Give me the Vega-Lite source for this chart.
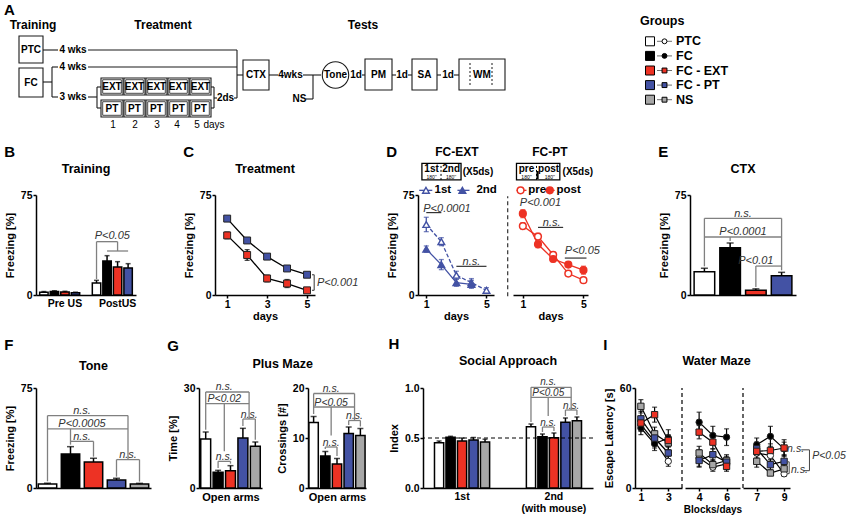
{
"$schema":"https://vega.github.io/schema/vega-lite/v6.json",
"background":"white",
"padding":{"left":4,"top":0,"right":0,"bottom":0},
"config":{
 "font":"Liberation Sans",
 "view":{"stroke":null},
 "axis":{"domainColor":"#000","domainWidth":1.5,"tickColor":"#000","tickWidth":1.5,"tickSize":3,"labelFont":"Liberation Sans","labelFontWeight":"bold","labelFontSize":10.5,"labelColor":"#000","labelPadding":1,"labelOverlap":false,"titleFont":"Liberation Sans","titleFontWeight":"bold","titleFontSize":11,"titleColor":"#000","titlePadding":5,"grid":false},
 "title":{"font":"Liberation Sans","fontSize":12.5,"fontWeight":"bold","color":"#000"}
},
"spacing":14,
"vconcat":[
 {"hconcat":[
  {"width":604,"height":102,"data":{"values":[
  {"k":"box","x":19,"x2":43,"y":36,"y2":63},
  {"k":"box","x":19,"x2":43,"y":68,"y2":97},
  {"k":"box","x":243,"x2":269,"y":60,"y2":90},
  {"k":"box","x":365,"x2":392,"y":59,"y2":90},
  {"k":"box","x":412,"x2":437,"y":59,"y2":90},
  {"k":"box","x":459,"x2":505,"y":59,"y2":90},
  {"k":"box","x":101,"x2":123,"y":78,"y2":95},
  {"k":"box","x":124,"x2":145,"y":78,"y2":95},
  {"k":"box","x":146,"x2":167,"y":78,"y2":95},
  {"k":"box","x":168,"x2":189,"y":78,"y2":95},
  {"k":"box","x":190,"x2":211,"y":78,"y2":95},
  {"k":"box","x":101,"x2":123,"y":100,"y2":117},
  {"k":"box","x":124,"x2":145,"y":100,"y2":117},
  {"k":"box","x":146,"x2":167,"y":100,"y2":117},
  {"k":"box","x":168,"x2":189,"y":100,"y2":117},
  {"k":"box","x":190,"x2":211,"y":100,"y2":117},
  {"k":"ibox","x":102.7,"x2":121.3,"y":79.7,"y2":93.3},
  {"k":"ibox","x":125.7,"x2":143.3,"y":79.7,"y2":93.3},
  {"k":"ibox","x":147.7,"x2":165.3,"y":79.7,"y2":93.3},
  {"k":"ibox","x":169.7,"x2":187.3,"y":79.7,"y2":93.3},
  {"k":"ibox","x":191.7,"x2":209.3,"y":79.7,"y2":93.3},
  {"k":"ibox","x":102.7,"x2":121.3,"y":101.7,"y2":115.3},
  {"k":"ibox","x":125.7,"x2":143.3,"y":101.7,"y2":115.3},
  {"k":"ibox","x":147.7,"x2":165.3,"y":101.7,"y2":115.3},
  {"k":"ibox","x":169.7,"x2":187.3,"y":101.7,"y2":115.3},
  {"k":"ibox","x":191.7,"x2":209.3,"y":101.7,"y2":115.3},
  {"k":"hl","x":43,"x2":58,"y":50},
  {"k":"hl","x":88,"x2":237,"y":50},
  {"k":"hl","x":43,"x2":52,"y":82},
  {"k":"hl","x":52,"x2":58,"y":67},
  {"k":"hl","x":88,"x2":237,"y":67},
  {"k":"hl","x":52,"x2":58,"y":97},
  {"k":"hl","x":88,"x2":97,"y":97},
  {"k":"hl","x":97,"x2":101,"y":87},
  {"k":"hl","x":97,"x2":101,"y":108},
  {"k":"hl","x":211,"x2":214,"y":87},
  {"k":"hl","x":211,"x2":214,"y":108},
  {"k":"hl","x":214,"x2":217,"y":98},
  {"k":"hl","x":234,"x2":237,"y":98},
  {"k":"hl","x":237,"x2":243,"y":75},
  {"k":"hl","x":269,"x2":278,"y":75},
  {"k":"hl","x":303,"x2":321,"y":75},
  {"k":"hl","x":306,"x2":313,"y":99},
  {"k":"hl","x":362,"x2":365,"y":75},
  {"k":"hl","x":392,"x2":396,"y":75},
  {"k":"hl","x":408,"x2":412,"y":75},
  {"k":"hl","x":437,"x2":441,"y":75},
  {"k":"hl","x":454,"x2":459,"y":75},
  {"k":"vl","x":52,"y":67,"y2":97},
  {"k":"vl","x":97,"y":87,"y2":108},
  {"k":"vl","x":214,"y":87,"y2":108},
  {"k":"vl","x":237,"y":50,"y2":98},
  {"k":"vl","x":313,"y":75,"y2":99},
  {"k":"dl","x":470,"y":63,"y2":87},
  {"k":"dl","x":492,"y":63,"y2":87},
  {"k":"circ","x":335.5,"y":75},
  {"k":"tl","x":4,"y":10,"t":"A"},
  {"k":"tt","x":33,"y":25,"t":"Training"},
  {"k":"tt","x":163,"y":25,"t":"Treatment"},
  {"k":"tt","x":363,"y":25,"t":"Tests"},
  {"k":"tb","x":31,"y":50,"t":"PTC"},
  {"k":"tb","x":31,"y":82.5,"t":"FC"},
  {"k":"tb","x":73,"y":50,"t":"4 wks"},
  {"k":"tb","x":73,"y":67,"t":"4 wks"},
  {"k":"tb","x":73,"y":97,"t":"3 wks"},
  {"k":"tb","x":112,"y":87,"t":"EXT"},
  {"k":"tb","x":134.5,"y":87,"t":"EXT"},
  {"k":"tb","x":156.5,"y":87,"t":"EXT"},
  {"k":"tb","x":178.5,"y":87,"t":"EXT"},
  {"k":"tb","x":200.5,"y":87,"t":"EXT"},
  {"k":"tb","x":112,"y":108.5,"t":"PT"},
  {"k":"tb","x":134.5,"y":108.5,"t":"PT"},
  {"k":"tb","x":156.5,"y":108.5,"t":"PT"},
  {"k":"tb","x":178.5,"y":108.5,"t":"PT"},
  {"k":"tb","x":200.5,"y":108.5,"t":"PT"},
  {"k":"tb","x":225.5,"y":98,"t":"2ds"},
  {"k":"tb","x":256,"y":75,"t":"CTX"},
  {"k":"tb","x":290.5,"y":75,"t":"4wks"},
  {"k":"tb","x":299.5,"y":99,"t":"NS"},
  {"k":"tb","x":335.5,"y":75,"t":"Tone"},
  {"k":"tb","x":356,"y":75,"t":"1d"},
  {"k":"tb","x":378.5,"y":75,"t":"PM"},
  {"k":"tb","x":402,"y":75,"t":"1d"},
  {"k":"tb","x":424.5,"y":75,"t":"SA"},
  {"k":"tb","x":448,"y":75,"t":"1d"},
  {"k":"tb","x":482,"y":75,"t":"WM"},
  {"k":"tn","x":113,"y":125,"t":"1"},
  {"k":"tn","x":135,"y":125,"t":"2"},
  {"k":"tn","x":157,"y":125,"t":"3"},
  {"k":"tn","x":177,"y":125,"t":"4"},
  {"k":"tn","x":197,"y":125,"t":"5"},
  {"k":"tn","x":214,"y":125,"t":"days"}
  ]},"layer":[
   {"transform":[{"filter":"datum.k == 'box'"}],"mark":{"type":"rect","fillOpacity":0,"stroke":"#1a1a1a","strokeWidth":1.1},"encoding":{"x":{"field":"x","type":"quantitative","scale":{"domain":[36,640],"nice":false,"zero":false},"axis":null},"x2":{"field":"x2"},"y":{"field":"y","type":"quantitative","scale":{"domain":[0,102],"nice":false,"zero":false,"reverse":true},"axis":null},"y2":{"field":"y2"}}},
   {"transform":[{"filter":"datum.k == 'ibox'"}],"mark":{"type":"rect","fillOpacity":0,"stroke":"#1a1a1a","strokeWidth":0.8},"encoding":{"x":{"field":"x","type":"quantitative","axis":null},"x2":{"field":"x2"},"y":{"field":"y","type":"quantitative","axis":null},"y2":{"field":"y2"}}},
   {"transform":[{"filter":"datum.k == 'hl'"}],"mark":{"type":"rule","color":"#1a1a1a","strokeWidth":1.1},"encoding":{"x":{"field":"x","type":"quantitative","axis":null},"x2":{"field":"x2"},"y":{"field":"y","type":"quantitative","axis":null}}},
   {"transform":[{"filter":"datum.k == 'vl'"}],"mark":{"type":"rule","color":"#1a1a1a","strokeWidth":1.1},"encoding":{"x":{"field":"x","type":"quantitative","axis":null},"y":{"field":"y","type":"quantitative","axis":null},"y2":{"field":"y2"}}},
   {"transform":[{"filter":"datum.k == 'dl'"}],"mark":{"type":"rule","color":"#1a1a1a","strokeWidth":1,"strokeDash":[2,2]},"encoding":{"x":{"field":"x","type":"quantitative","axis":null},"y":{"field":"y","type":"quantitative","axis":null},"y2":{"field":"y2"}}},
   {"transform":[{"filter":"datum.k == 'circ'"}],"mark":{"type":"point","shape":"circle","size":700,"filled":true,"fill":"#ffffff","stroke":"#1a1a1a","strokeWidth":1.1,"opacity":1},"encoding":{"x":{"field":"x","type":"quantitative","axis":null},"y":{"field":"y","type":"quantitative","axis":null}}},
   {"transform":[{"filter":"datum.k == 'tb'"}],"mark":{"type":"text","fontWeight":"bold","fontSize":10,"align":"center","baseline":"middle"},"encoding":{"x":{"field":"x","type":"quantitative","axis":null},"y":{"field":"y","type":"quantitative","axis":null},"text":{"field":"t"}}},
   {"transform":[{"filter":"datum.k == 'tt'"}],"mark":{"type":"text","fontWeight":"bold","fontSize":12,"align":"center","baseline":"middle"},"encoding":{"x":{"field":"x","type":"quantitative","axis":null},"y":{"field":"y","type":"quantitative","axis":null},"text":{"field":"t"}}},
   {"transform":[{"filter":"datum.k == 'tn'"}],"mark":{"type":"text","fontSize":10,"align":"center","baseline":"middle","color":"#000"},"encoding":{"x":{"field":"x","type":"quantitative","axis":null},"y":{"field":"y","type":"quantitative","axis":null},"text":{"field":"t"}}},
   {"transform":[{"filter":"datum.k == 'tl'"}],"mark":{"type":"text","fontWeight":"bold","fontSize":15,"align":"left","baseline":"middle"},"encoding":{"x":{"field":"x","type":"quantitative","axis":null},"y":{"field":"y","type":"quantitative","axis":null},"text":{"field":"t"}}}
  ]},
  {"width":210,"height":102,
   "data":{"values":[{"g":"PTC"},{"g":"FC"},{"g":"FC - EXT"},{"g":"FC - PT"},{"g":"NS"}]},
   "layer":[
    {"mark":{"type":"point","shape":"square","size":81,"filled":true,"stroke":"#000","strokeWidth":1,"opacity":1},"encoding":{"x":{"datum":650,"type":"quantitative","scale":{"domain":[640,850],"nice":false,"zero":false},"axis":null},"y":{"field":"g","type":"nominal","scale":{"domain":["PTC","FC","FC - EXT","FC - PT","NS"],"range":[34,107]},"axis":null},"fill":{"field":"g","type":"nominal","scale":{"domain":["PTC","FC","FC - EXT","FC - PT","NS"],"range":["#ffffff","#000000","#ed3224","#4352a4","#a7a7a7"]},"legend":null}}},
    {"mark":{"type":"tick","orient":"horizontal","size":15,"thickness":1,"color":"#333"},"encoding":{"x":{"datum":664.5,"type":"quantitative","axis":null},"y":{"field":"g","type":"nominal","axis":null}}},
    {"transform":[{"filter":"datum.g == 'PTC' || datum.g == 'FC'"}],"mark":{"type":"point","shape":"circle","size":24,"filled":true,"stroke":"#000","strokeWidth":1,"opacity":1},"encoding":{"x":{"datum":664.5,"type":"quantitative","axis":null},"y":{"field":"g","type":"nominal","axis":null},"fill":{"field":"g","type":"nominal","scale":{"domain":["PTC","FC","FC - EXT","FC - PT","NS"],"range":["#ffffff","#000000","#ed3224","#4352a4","#a7a7a7"]},"legend":null}}},
    {"transform":[{"filter":"datum.g != 'PTC' && datum.g != 'FC'"}],"mark":{"type":"point","shape":"square","size":24,"filled":true,"stroke":"#000","strokeWidth":1,"opacity":1},"encoding":{"x":{"datum":664.5,"type":"quantitative","axis":null},"y":{"field":"g","type":"nominal","axis":null},"fill":{"field":"g","type":"nominal","scale":{"domain":["PTC","FC","FC - EXT","FC - PT","NS"],"range":["#ffffff","#000000","#ed3224","#4352a4","#a7a7a7"]},"legend":null}}},
    {"mark":{"type":"text","align":"left","baseline":"middle","fontWeight":"bold","fontSize":12.5},"encoding":{"x":{"datum":676,"type":"quantitative","axis":null},"y":{"field":"g","type":"nominal","axis":null},"text":{"field":"g"}}},
    {"data":{"values":[{"g":"PTC","t":"Groups"}]},"mark":{"type":"text","align":"left","baseline":"middle","fontWeight":"bold","fontSize":12.5,"dy":-20},"encoding":{"x":{"datum":640,"type":"quantitative","axis":null},"y":{"field":"g","type":"nominal","axis":null},"text":{"field":"t"}}}
   ]}
 ],"spacing":0},

 {"hconcat":[
  {"title":{"text":"B","anchor":"start","fontSize":15,"offset":3},"vconcat":[{
   "title":{"text":"Training","offset":15,"frame":"group"},
   "width":100,"height":100,
   "data":{"values":[
    {"s":"pre_PTC","g":"PTC","m":2,"hi":2.6},
    {"s":"pre_FC","g":"FC","m":2.6,"hi":3.2},
    {"s":"pre_EXT","g":"FC - EXT","m":2.2,"hi":2.8},
    {"s":"pre_PT","g":"FC - PT","m":1.6,"hi":2.1},
    {"s":"post_PTC","g":"PTC","m":9,"hi":11},
    {"s":"post_FC","g":"FC","m":25.5,"hi":29.5},
    {"s":"post_EXT","g":"FC - EXT","m":21,"hi":25},
    {"s":"post_PT","g":"FC - PT","m":20.3,"hi":23.5}
   ]},
   "layer":[
    {"mark":{"type":"rule","color":"#000","strokeWidth":1.5},"encoding":{"x":{"field":"s","type":"nominal","title":null,"scale":{"domain":["pre_PTC","pre_FC","pre_EXT","pre_PT","gap","post_PTC","post_FC","post_EXT","post_PT"],"paddingInner":0.2,"paddingOuter":0.35},"axis":{"values":["pre_EXT","post_EXT"],"labelExpr":"datum.value == 'pre_EXT' ? 'Pre US' : 'PostUS'","ticks":false,"labelAngle":0,"labelPadding":3,"labelOverlap":false}},"y":{"field":"m","type":"quantitative","title":"Freezing [%]","scale":{"domain":[0,75],"nice":false},"axis":{"values":[0,25,50,75],"labelOverlap":false}},"y2":{"field":"hi"}}},
    {"mark":{"type":"tick","orient":"horizontal","size":5,"thickness":1.5,"color":"#000"},"encoding":{"x":{"field":"s","type":"nominal","title":null},"y":{"field":"hi","type":"quantitative","title":"Freezing [%]"}}},
    {"mark":{"type":"bar","stroke":"#000","strokeWidth":1.5},"encoding":{"x":{"field":"s","type":"nominal","title":null},"y":{"field":"m","type":"quantitative","title":"Freezing [%]"},"fill":{"field":"g","type":"nominal","scale":{"domain":["PTC","FC","FC - EXT","FC - PT","NS"],"range":["#ffffff","#000000","#ed3224","#4352a4","#a7a7a7"]},"legend":null}}},
    {"data":{"values":[{"s":"post_PTC","s2":"post_EXT","v":40},{"s":"post_FC","s2":"post_PT","v":33}]},"mark":{"type":"rule","color":"#808080","strokeWidth":1.3},"encoding":{"x":{"field":"s","type":"nominal","title":null},"x2":{"field":"s2"},"y":{"field":"v","type":"quantitative","title":"Freezing [%]"}}},
    {"data":{"values":[{"s":"post_PTC","v":12,"v2":40},{"s":"post_EXT","v":33,"v2":40}]},"mark":{"type":"rule","color":"#808080","strokeWidth":1.3},"encoding":{"x":{"field":"s","type":"nominal","title":null},"y":{"field":"v","type":"quantitative","title":"Freezing [%]"},"y2":{"field":"v2"}}},
    {"data":{"values":[{"s":"post_FC","v":42,"t":"P<0.05"}]},"mark":{"type":"text","fontStyle":"italic","fontSize":11,"color":"#333","baseline":"alphabetic"},"encoding":{"x":{"field":"s","type":"nominal","bandPosition":1.125,"title":null},"y":{"field":"v","type":"quantitative","title":"Freezing [%]"},"text":{"field":"t"}}}
   ]}]},
  {"width":47,"height":1,"data":{"values":[{}]},"mark":{"type":"point","opacity":0},"encoding":{}},
  {"title":{"text":"C","anchor":"start","fontSize":15,"offset":3},"vconcat":[{
   "title":{"text":"Treatment","offset":15,"frame":"group"},
   "width":100,"height":100,
   "data":{"values":[
    {"g":"FC - PT","d":1,"m":57.3,"lo":56,"hi":58.6},
    {"g":"FC - PT","d":2,"m":40.9,"lo":39.3,"hi":42.5},
    {"g":"FC - PT","d":3,"m":28.8,"lo":27.8,"hi":29.8},
    {"g":"FC - PT","d":4,"m":19.9,"lo":18.9,"hi":20.9},
    {"g":"FC - PT","d":5,"m":15.2,"lo":14.2,"hi":16.2},
    {"g":"FC - EXT","d":1,"m":44.7,"lo":42.2,"hi":47.2},
    {"g":"FC - EXT","d":2,"m":30,"lo":26,"hi":34},
    {"g":"FC - EXT","d":3,"m":12.4,"lo":9.9,"hi":14.9},
    {"g":"FC - EXT","d":4,"m":8.6,"lo":5.6,"hi":11.6},
    {"g":"FC - EXT","d":5,"m":3.5,"lo":2.5,"hi":4.5}
   ]},
   "layer":[
    {"mark":{"type":"line","color":"#000","strokeWidth":1.3},"encoding":{"x":{"field":"d","type":"quantitative","title":"days","scale":{"domain":[0.39,5.4],"nice":false,"zero":false},"axis":{"values":[1,2,3,4,5],"format":"d","titlePadding":1,"labelOverlap":false}},"y":{"field":"m","type":"quantitative","title":"Freezing [%]","scale":{"domain":[0,75],"nice":false},"axis":{"values":[0,25,50,75],"labelOverlap":false}},"detail":{"field":"g","type":"nominal"}}},
    {"mark":{"type":"rule","color":"#000","strokeWidth":1.3},"encoding":{"x":{"field":"d","type":"quantitative","title":"days"},"y":{"field":"lo","type":"quantitative","title":"Freezing [%]"},"y2":{"field":"hi"}}},
    {"mark":{"type":"tick","orient":"horizontal","size":5,"thickness":1.3,"color":"#000"},"encoding":{"x":{"field":"d","type":"quantitative","title":"days"},"y":{"field":"hi","type":"quantitative","title":"Freezing [%]"}}},
    {"mark":{"type":"tick","orient":"horizontal","size":5,"thickness":1.3,"color":"#000"},"encoding":{"x":{"field":"d","type":"quantitative","title":"days"},"y":{"field":"lo","type":"quantitative","title":"Freezing [%]"}}},
    {"mark":{"type":"point","shape":"square","size":48,"filled":true,"stroke":"#222","strokeWidth":1,"opacity":1},"encoding":{"x":{"field":"d","type":"quantitative","title":"days"},"y":{"field":"m","type":"quantitative","title":"Freezing [%]"},"fill":{"field":"g","type":"nominal","scale":{"domain":["PTC","FC","FC - EXT","FC - PT","NS"],"range":["#ffffff","#000000","#ed3224","#4352a4","#a7a7a7"]},"legend":null}}},
    {"data":{"values":[{"d":5.36,"v":3.5,"v2":15.2}]},"mark":{"type":"rule","color":"#555","strokeWidth":1.2},"encoding":{"x":{"field":"d","type":"quantitative","title":"days"},"y":{"field":"v","type":"quantitative","title":"Freezing [%]"},"y2":{"field":"v2"}}},
    {"data":{"values":[{"d":5.25,"d2":5.36,"v":15.2},{"d":5.25,"d2":5.36,"v":3.5}]},"mark":{"type":"rule","color":"#555","strokeWidth":1.2},"encoding":{"x":{"field":"d","type":"quantitative","title":"days"},"x2":{"field":"d2"},"y":{"field":"v","type":"quantitative","title":"Freezing [%]"}}},
    {"data":{"values":[{"d":5.5,"v":6.5,"t":"P<0.001"}]},"mark":{"type":"text","fontStyle":"italic","fontSize":11,"color":"#333","baseline":"alphabetic","align":"left"},"encoding":{"x":{"field":"d","type":"quantitative","title":"days"},"y":{"field":"v","type":"quantitative","title":"Freezing [%]"},"text":{"field":"t"}}}
   ]}]},
  {"width":27,"height":1,"data":{"values":[{}]},"mark":{"type":"point","opacity":0},"encoding":{}},
  {"title":{"text":"D","anchor":"start","fontSize":15,"offset":-14},"spacing":0,"hconcat":[
   {"width":76,"height":100,
    "data":{"values":[
     {"g":"1st","d":1,"m":52.9,"lo":47.5,"hi":58.3},
     {"g":"1st","d":2,"m":40,"lo":37,"hi":43},
     {"g":"1st","d":3,"m":14.8,"lo":11.8,"hi":17.8},
     {"g":"1st","d":4,"m":9.3,"lo":6.3,"hi":12.3},
     {"g":"1st","d":5,"m":3.5,"lo":1.5,"hi":5.5},
     {"g":"2nd","d":1,"m":34.4,"lo":32,"hi":36.8},
     {"g":"2nd","d":2,"m":22.8,"lo":19,"hi":26.6},
     {"g":"2nd","d":3,"m":9.2,"lo":6.5,"hi":11.9},
     {"g":"2nd","d":4,"m":8,"lo":5,"hi":11}
    ]},
    "layer":[
     {"transform":[{"filter":"datum.g == '1st'"}],"mark":{"type":"line","color":"#4352a4","strokeWidth":1.3,"strokeDash":[4,2]},"encoding":{"x":{"field":"d","type":"quantitative","title":"days","scale":{"domain":[0.45,5.5],"nice":false,"zero":false},"axis":{"values":[1,2,3,4,5],"format":"d","titlePadding":1,"labelOverlap":false}},"y":{"field":"m","type":"quantitative","title":"Freezing [%]","scale":{"domain":[0,75],"nice":false},"axis":{"values":[0,25,50,75],"labelOverlap":false}}}},
     {"transform":[{"filter":"datum.g == '2nd'"}],"mark":{"type":"line","color":"#4352a4","strokeWidth":1.3},"encoding":{"x":{"field":"d","type":"quantitative","title":"days"},"y":{"field":"m","type":"quantitative","title":"Freezing [%]"}}},
     {"mark":{"type":"rule","color":"#4352a4","strokeWidth":1.3},"encoding":{"x":{"field":"d","type":"quantitative","title":"days"},"y":{"field":"lo","type":"quantitative","title":"Freezing [%]"},"y2":{"field":"hi"}}},
     {"mark":{"type":"tick","orient":"horizontal","size":5,"thickness":1.3,"color":"#4352a4"},"encoding":{"x":{"field":"d","type":"quantitative","title":"days"},"y":{"field":"hi","type":"quantitative","title":"Freezing [%]"}}},
     {"mark":{"type":"tick","orient":"horizontal","size":5,"thickness":1.3,"color":"#4352a4"},"encoding":{"x":{"field":"d","type":"quantitative","title":"days"},"y":{"field":"lo","type":"quantitative","title":"Freezing [%]"}}},
     {"transform":[{"filter":"datum.g == '1st'"}],"mark":{"type":"point","shape":"triangle-up","size":45,"filled":true,"fill":"#ffffff","stroke":"#4352a4","strokeWidth":1.4,"opacity":1},"encoding":{"x":{"field":"d","type":"quantitative","title":"days"},"y":{"field":"m","type":"quantitative","title":"Freezing [%]"}}},
     {"transform":[{"filter":"datum.g == '2nd'"}],"mark":{"type":"point","shape":"triangle-up","size":45,"filled":true,"fill":"#4352a4","stroke":"#4352a4","strokeWidth":1.4,"opacity":1},"encoding":{"x":{"field":"d","type":"quantitative","title":"days"},"y":{"field":"m","type":"quantitative","title":"Freezing [%]"}}},
     {"data":{"values":[{"d":1,"d2":2,"v":61.8},{"d":3,"d2":5,"v":21.5}]},"mark":{"type":"rule","color":"#333","strokeWidth":1.2},"encoding":{"x":{"field":"d","type":"quantitative","title":"days"},"x2":{"field":"d2"},"y":{"field":"v","type":"quantitative","title":"Freezing [%]"}}},
     {"data":{"values":[{"d":0.8,"v":62.6,"t":"P<0.0001"}]},"mark":{"type":"text","fontStyle":"italic","fontSize":11,"color":"#333","baseline":"alphabetic","align":"left"},"encoding":{"x":{"field":"d","type":"quantitative","title":"days"},"y":{"field":"v","type":"quantitative","title":"Freezing [%]"},"text":{"field":"t"}}},
     {"data":{"values":[{"d":4,"v":22.4,"t":"n.s."}]},"mark":{"type":"text","fontStyle":"italic","fontSize":11,"color":"#333","baseline":"alphabetic","align":"center"},"encoding":{"x":{"field":"d","type":"quantitative","title":"days"},"y":{"field":"v","type":"quantitative","title":"Freezing [%]"},"text":{"field":"t"}}},
     {"data":{"values":[{"d":0.53,"d2":1.4,"v":78.5},{"d":3.07,"d2":3.87,"v":78.5}]},"mark":{"type":"rule","color":"#4352a4","strokeWidth":1.3},"encoding":{"x":{"field":"d","type":"quantitative","title":"days"},"x2":{"field":"d2"},"y":{"field":"v","type":"quantitative","title":"Freezing [%]"}}},
     {"data":{"values":[{"d":0.98,"v":78.5}]},"mark":{"type":"point","shape":"triangle-up","size":45,"filled":true,"fill":"#ffffff","stroke":"#4352a4","strokeWidth":1.4,"opacity":1},"encoding":{"x":{"field":"d","type":"quantitative","title":"days"},"y":{"field":"v","type":"quantitative","title":"Freezing [%]"}}},
     {"data":{"values":[{"d":3.4,"v":78.5}]},"mark":{"type":"point","shape":"triangle-up","size":45,"filled":true,"fill":"#4352a4","stroke":"#4352a4","strokeWidth":1.4,"opacity":1},"encoding":{"x":{"field":"d","type":"quantitative","title":"days"},"y":{"field":"v","type":"quantitative","title":"Freezing [%]"}}},
     {"data":{"values":[{"d":1.55,"v":78.5,"t":"1st"},{"d":4.33,"v":78.5,"t":"2nd"}]},"mark":{"type":"text","fontWeight":"bold","fontSize":11.5,"align":"left","baseline":"middle"},"encoding":{"x":{"field":"d","type":"quantitative","title":"days"},"y":{"field":"v","type":"quantitative","title":"Freezing [%]"},"text":{"field":"t"}}},
     {"data":{"values":[{"d":0.71,"d2":3.31,"v":86.3,"v2":98.7}]},"mark":{"type":"rect","fillOpacity":0,"stroke":"#000","strokeWidth":1.3},"encoding":{"x":{"field":"d","type":"quantitative","title":"days"},"x2":{"field":"d2"},"y":{"field":"v","type":"quantitative","title":"Freezing [%]"},"y2":{"field":"v2"}}},
     {"data":{"values":[{"d":1.98,"v":86.3,"v2":98.7}]},"mark":{"type":"rule","color":"#000","strokeWidth":1,"strokeDash":[2,2]},"encoding":{"x":{"field":"d","type":"quantitative","title":"days"},"y":{"field":"v","type":"quantitative","title":"Freezing [%]"},"y2":{"field":"v2"}}},
     {"data":{"values":[{"d":1.35,"v":94.3,"t":"1st"},{"d":2.65,"v":94.3,"t":"2nd"}]},"mark":{"type":"text","fontWeight":"bold","fontSize":10,"align":"center","baseline":"middle"},"encoding":{"x":{"field":"d","type":"quantitative","title":"days"},"y":{"field":"v","type":"quantitative","title":"Freezing [%]"},"text":{"field":"t"}}},
     {"data":{"values":[{"d":1.35,"v":88.4,"t":"180''"},{"d":2.65,"v":88.4,"t":"180''"}]},"mark":{"type":"text","fontSize":5,"align":"center","baseline":"middle"},"encoding":{"x":{"field":"d","type":"quantitative","title":"days"},"y":{"field":"v","type":"quantitative","title":"Freezing [%]"},"text":{"field":"t"}}},
     {"data":{"values":[{"d":3.42,"v":92.5,"t":"(X5ds)"}]},"mark":{"type":"text","fontWeight":"bold","fontSize":10,"align":"left","baseline":"middle"},"encoding":{"x":{"field":"d","type":"quantitative","title":"days"},"y":{"field":"v","type":"quantitative","title":"Freezing [%]"},"text":{"field":"t"}}},
     {"data":{"values":[{"d":3.03,"v":107,"t":"FC-EXT"}]},"mark":{"type":"text","fontWeight":"bold","fontSize":12,"align":"center","baseline":"middle"},"encoding":{"x":{"field":"d","type":"quantitative","title":"days"},"y":{"field":"v","type":"quantitative","title":"Freezing [%]"},"text":{"field":"t"}}}
    ]},
   {"width":10,"height":1,"data":{"values":[{}]},"mark":{"type":"point","opacity":0},"encoding":{}},
   {"width":75,"height":100,
    "data":{"values":[
     {"g":"pre","d":1,"m":51.7,"lo":49.2,"hi":54.2},
     {"g":"pre","d":2,"m":43.8,"lo":41.3,"hi":46.3},
     {"g":"pre","d":3,"m":30.2,"lo":28.2,"hi":32.2},
     {"g":"pre","d":4,"m":16.1,"lo":14.1,"hi":18.1},
     {"g":"pre","d":5,"m":11.1,"lo":9.6,"hi":12.6},
     {"g":"post","d":1,"m":61,"lo":58,"hi":64},
     {"g":"post","d":2,"m":38,"lo":35.5,"hi":40.5},
     {"g":"post","d":3,"m":27,"lo":25,"hi":29},
     {"g":"post","d":4,"m":22.8,"lo":20.8,"hi":24.8},
     {"g":"post","d":5,"m":18.6,"lo":15.6,"hi":21.6}
    ]},
    "layer":[
     {"mark":{"type":"line","color":"#ed3224","strokeWidth":1.3},"encoding":{"x":{"field":"d","type":"quantitative","title":"days","scale":{"domain":[0.35,5.3],"nice":false,"zero":false},"axis":{"values":[1,2,3,4,5],"format":"d","titlePadding":1,"labelOverlap":false}},"y":{"field":"m","type":"quantitative","scale":{"domain":[0,75],"nice":false},"axis":null},"detail":{"field":"g","type":"nominal"}}},
     {"mark":{"type":"rule","color":"#ed3224","strokeWidth":1.3},"encoding":{"x":{"field":"d","type":"quantitative","title":"days"},"y":{"field":"lo","type":"quantitative","axis":null},"y2":{"field":"hi"}}},
     {"mark":{"type":"tick","orient":"horizontal","size":5,"thickness":1.3,"color":"#ed3224"},"encoding":{"x":{"field":"d","type":"quantitative","title":"days"},"y":{"field":"hi","type":"quantitative","axis":null}}},
     {"mark":{"type":"tick","orient":"horizontal","size":5,"thickness":1.3,"color":"#ed3224"},"encoding":{"x":{"field":"d","type":"quantitative","title":"days"},"y":{"field":"lo","type":"quantitative","axis":null}}},
     {"transform":[{"filter":"datum.g == 'pre'"}],"mark":{"type":"point","shape":"circle","size":45,"filled":true,"fill":"#ffffff","stroke":"#ed3224","strokeWidth":1.5,"opacity":1},"encoding":{"x":{"field":"d","type":"quantitative","title":"days"},"y":{"field":"m","type":"quantitative","axis":null}}},
     {"transform":[{"filter":"datum.g == 'post'"}],"mark":{"type":"point","shape":"circle","size":45,"filled":true,"fill":"#ed3224","stroke":"#ed3224","strokeWidth":1.5,"opacity":1},"encoding":{"x":{"field":"d","type":"quantitative","title":"days"},"y":{"field":"m","type":"quantitative","axis":null}}},
     {"data":{"values":[{"d":0,"v":-1,"v2":74}]},"mark":{"type":"rule","color":"#333","strokeWidth":1.2,"strokeDash":[4,3]},"encoding":{"x":{"field":"d","type":"quantitative","title":"days"},"y":{"field":"v","type":"quantitative","axis":null},"y2":{"field":"v2"}}},
     {"data":{"values":[{"d":2.0,"d2":3.66,"v":50.7},{"d":3.77,"d2":5.2,"v":27.7}]},"mark":{"type":"rule","color":"#333","strokeWidth":1.2},"encoding":{"x":{"field":"d","type":"quantitative","title":"days"},"x2":{"field":"d2"},"y":{"field":"v","type":"quantitative","axis":null}}},
     {"data":{"values":[{"d":0.8,"v":66.8,"t":"P<0.001"},{"d":3.77,"v":30.5,"t":"P<0.05"}]},"mark":{"type":"text","fontStyle":"italic","fontSize":11,"color":"#333","baseline":"alphabetic","align":"left"},"encoding":{"x":{"field":"d","type":"quantitative","title":"days"},"y":{"field":"v","type":"quantitative","axis":null},"text":{"field":"t"}}},
     {"data":{"values":[{"d":2.9,"v":51.6,"t":"n.s."}]},"mark":{"type":"text","fontStyle":"italic","fontSize":11,"color":"#333","baseline":"alphabetic","align":"center"},"encoding":{"x":{"field":"d","type":"quantitative","title":"days"},"y":{"field":"v","type":"quantitative","axis":null},"text":{"field":"t"}}},
     {"data":{"values":[{"d":0.58,"d2":1.24,"v":78.5},{"d":2.45,"d2":3.1,"v":78.5}]},"mark":{"type":"rule","color":"#ed3224","strokeWidth":1.3},"encoding":{"x":{"field":"d","type":"quantitative","title":"days"},"x2":{"field":"d2"},"y":{"field":"v","type":"quantitative","axis":null}}},
     {"data":{"values":[{"d":0.85,"v":78.5}]},"mark":{"type":"point","shape":"circle","size":45,"filled":true,"fill":"#ffffff","stroke":"#ed3224","strokeWidth":1.5,"opacity":1},"encoding":{"x":{"field":"d","type":"quantitative","title":"days"},"y":{"field":"v","type":"quantitative","axis":null}}},
     {"data":{"values":[{"d":2.78,"v":78.5}]},"mark":{"type":"point","shape":"circle","size":45,"filled":true,"fill":"#ed3224","stroke":"#ed3224","strokeWidth":1.5,"opacity":1},"encoding":{"x":{"field":"d","type":"quantitative","title":"days"},"y":{"field":"v","type":"quantitative","axis":null}}},
     {"data":{"values":[{"d":1.35,"v":78.5,"t":"pre"},{"d":3.22,"v":78.5,"t":"post"}]},"mark":{"type":"text","fontWeight":"bold","fontSize":11.5,"align":"left","baseline":"middle"},"encoding":{"x":{"field":"d","type":"quantitative","title":"days"},"y":{"field":"v","type":"quantitative","axis":null},"text":{"field":"t"}}},
     {"data":{"values":[{"d":0.58,"d2":3.44,"v":86.3,"v2":98.7}]},"mark":{"type":"rect","fillOpacity":0,"stroke":"#000","strokeWidth":1.3},"encoding":{"x":{"field":"d","type":"quantitative","title":"days"},"x2":{"field":"d2"},"y":{"field":"v","type":"quantitative","axis":null},"y2":{"field":"v2"}}},
     {"data":{"values":[{"d":1.9,"v":86.3,"v2":98.7}]},"mark":{"type":"rule","color":"#000","strokeWidth":1,"strokeDash":[2,2]},"encoding":{"x":{"field":"d","type":"quantitative","title":"days"},"y":{"field":"v","type":"quantitative","axis":null},"y2":{"field":"v2"}}},
     {"data":{"values":[{"d":1.97,"v":87,"v2":93}]},"mark":{"type":"rule","color":"#000","strokeWidth":2.2},"encoding":{"x":{"field":"d","type":"quantitative","title":"days"},"y":{"field":"v","type":"quantitative","axis":null},"y2":{"field":"v2"}}},
     {"data":{"values":[{"d":1.24,"v":94.3,"t":"pre"},{"d":2.7,"v":94.3,"t":"post"}]},"mark":{"type":"text","fontWeight":"bold","fontSize":10,"align":"center","baseline":"middle"},"encoding":{"x":{"field":"d","type":"quantitative","title":"days"},"y":{"field":"v","type":"quantitative","axis":null},"text":{"field":"t"}}},
     {"data":{"values":[{"d":1.24,"v":88.4,"t":"180''"},{"d":2.78,"v":88.4,"t":"180''"}]},"mark":{"type":"text","fontSize":5,"align":"center","baseline":"middle"},"encoding":{"x":{"field":"d","type":"quantitative","title":"days"},"y":{"field":"v","type":"quantitative","axis":null},"text":{"field":"t"}}},
     {"data":{"values":[{"d":3.62,"v":92.5,"t":"(X5ds)"}]},"mark":{"type":"text","fontWeight":"bold","fontSize":10,"align":"left","baseline":"middle"},"encoding":{"x":{"field":"d","type":"quantitative","title":"days"},"y":{"field":"v","type":"quantitative","axis":null},"text":{"field":"t"}}},
     {"data":{"values":[{"d":2.78,"v":107,"t":"FC-PT"}]},"mark":{"type":"text","fontWeight":"bold","fontSize":12,"align":"center","baseline":"middle"},"encoding":{"x":{"field":"d","type":"quantitative","title":"days"},"y":{"field":"v","type":"quantitative","axis":null},"text":{"field":"t"}}}
    ]}
  ]},
  {"width":58,"height":1,"data":{"values":[{}]},"mark":{"type":"point","opacity":0},"encoding":{}},
  {"title":{"text":"E","anchor":"start","fontSize":15,"offset":3},"vconcat":[{
   "title":{"text":"CTX","offset":15,"frame":"group"},
   "width":106,"height":100,
   "data":{"values":[
    {"s":"PTC","g":"PTC","m":17.5,"hi":20},
    {"s":"FC","g":"FC","m":35.5,"hi":39},
    {"s":"FC - EXT","g":"FC - EXT","m":3.5,"hi":4.6},
    {"s":"FC - PT","g":"FC - PT","m":14.5,"hi":17}
   ]},
   "layer":[
    {"mark":{"type":"rule","color":"#000","strokeWidth":1.5},"encoding":{"x":{"field":"s","type":"nominal","title":null,"scale":{"domain":["PTC","FC","FC - EXT","FC - PT"],"paddingInner":0.2,"paddingOuter":0.16},"axis":{"labels":false,"ticks":false}},"y":{"field":"m","type":"quantitative","title":"Freezing [%]","scale":{"domain":[0,75],"nice":false},"axis":{"values":[0,25,50,75],"labelOverlap":false}},"y2":{"field":"hi"}}},
    {"mark":{"type":"tick","orient":"horizontal","size":7,"thickness":1.5,"color":"#000"},"encoding":{"x":{"field":"s","type":"nominal","title":null},"y":{"field":"hi","type":"quantitative","title":"Freezing [%]"}}},
    {"mark":{"type":"bar","stroke":"#000","strokeWidth":1.5},"encoding":{"x":{"field":"s","type":"nominal","title":null},"y":{"field":"m","type":"quantitative","title":"Freezing [%]"},"fill":{"field":"g","type":"nominal","scale":{"domain":["PTC","FC","FC - EXT","FC - PT","NS"],"range":["#ffffff","#000000","#ed3224","#4352a4","#a7a7a7"]},"legend":null}}},
    {"data":{"values":[{"s":"PTC","s2":"FC - PT","v":57.5},{"s":"PTC","s2":"FC - PT","v":43.5},{"s":"FC - EXT","s2":"FC - PT","v":21.7}]},"mark":{"type":"rule","color":"#808080","strokeWidth":1.3},"encoding":{"x":{"field":"s","type":"nominal","title":null},"x2":{"field":"s2"},"y":{"field":"v","type":"quantitative","title":"Freezing [%]"}}},
    {"data":{"values":[{"s":"PTC","v":21.5,"v2":57.5},{"s":"FC - PT","v":18.5,"v2":57.5},{"s":"FC","v":40.5,"v2":43.5},{"s":"FC - EXT","v":6,"v2":21.7}]},"mark":{"type":"rule","color":"#808080","strokeWidth":1.3},"encoding":{"x":{"field":"s","type":"nominal","title":null},"y":{"field":"v","type":"quantitative","title":"Freezing [%]"},"y2":{"field":"v2"}}},
    {"data":{"values":[{"s":"FC","v":58.7,"t":"n.s."},{"s":"FC","v":44.7,"t":"P<0.0001"}]},"mark":{"type":"text","fontStyle":"italic","fontSize":11,"color":"#333","baseline":"alphabetic"},"encoding":{"x":{"field":"s","type":"nominal","bandPosition":1.125,"title":null},"y":{"field":"v","type":"quantitative","title":"Freezing [%]"},"text":{"field":"t"}}},
    {"data":{"values":[{"s":"FC - EXT","v":22.9,"t":"P<0.01"}]},"mark":{"type":"text","fontStyle":"italic","fontSize":11,"color":"#333","baseline":"alphabetic"},"encoding":{"x":{"field":"s","type":"nominal","title":null},"y":{"field":"v","type":"quantitative","title":"Freezing [%]"},"text":{"field":"t"}}}
   ]}]}
 ],"spacing":0},

 {"hconcat":[
  {"title":{"text":"F","anchor":"start","fontSize":15,"offset":7},"vconcat":[{
   "title":{"text":"Tone","offset":11,"frame":"group"},
   "width":115,"height":100,
   "data":{"values":[
    {"s":"PTC","g":"PTC","m":3,"hi":3.6},
    {"s":"FC","g":"FC","m":25.5,"hi":31},
    {"s":"FC - EXT","g":"FC - EXT","m":19.5,"hi":22.3},
    {"s":"FC - PT","g":"FC - PT","m":6,"hi":7.3},
    {"s":"NS","g":"NS","m":3,"hi":3.5}
   ]},
   "layer":[
    {"mark":{"type":"rule","color":"#000","strokeWidth":1.5},"encoding":{"x":{"field":"s","type":"nominal","title":null,"scale":{"domain":["PTC","FC","FC - EXT","FC - PT","NS"],"paddingInner":0.2,"paddingOuter":0.1},"axis":{"labels":false,"ticks":false}},"y":{"field":"m","type":"quantitative","title":"Freezing [%]","scale":{"domain":[0,75],"nice":false},"axis":{"values":[0,25,50,75],"labelOverlap":false}},"y2":{"field":"hi"}}},
    {"mark":{"type":"tick","orient":"horizontal","size":7,"thickness":1.5,"color":"#000"},"encoding":{"x":{"field":"s","type":"nominal","title":null},"y":{"field":"hi","type":"quantitative","title":"Freezing [%]"}}},
    {"mark":{"type":"bar","stroke":"#000","strokeWidth":1.5},"encoding":{"x":{"field":"s","type":"nominal","title":null},"y":{"field":"m","type":"quantitative","title":"Freezing [%]"},"fill":{"field":"g","type":"nominal","scale":{"domain":["PTC","FC","FC - EXT","FC - PT","NS"],"range":["#ffffff","#000000","#ed3224","#4352a4","#a7a7a7"]},"legend":null}}},
    {"data":{"values":[{"s":"FC","s2":"FC - EXT","v":35},{"s":"FC - PT","s2":"NS","v":21.3}]},"mark":{"type":"rule","color":"#808080","strokeWidth":1.3},"encoding":{"x":{"field":"s","type":"nominal","title":null},"x2":{"field":"s2"},"y":{"field":"v","type":"quantitative","title":"Freezing [%]"}}},
    {"data":{"values":[{"s":"PTC","s2":"FC - PT","v":54.3},{"s":"PTC","s2":"FC - PT","v":44.3}]},"mark":{"type":"rule","color":"#808080","strokeWidth":1.3},"encoding":{"x":{"field":"s","type":"nominal","title":null},"x2":{"field":"s2","bandPosition":1.125},"y":{"field":"v","type":"quantitative","title":"Freezing [%]"}}},
    {"data":{"values":[{"s":"PTC","v":5,"v2":54.3},{"s":"FC","v":32.5,"v2":44.3},{"s":"FC - EXT","v":23.5,"v2":35},{"s":"FC - PT","v":8.5,"v2":21.3},{"s":"NS","v":4.8,"v2":21.3}]},"mark":{"type":"rule","color":"#808080","strokeWidth":1.3},"encoding":{"x":{"field":"s","type":"nominal","title":null},"y":{"field":"v","type":"quantitative","title":"Freezing [%]"},"y2":{"field":"v2"}}},
    {"data":{"values":[{"s":"FC - PT","v":21.3,"v2":54.3}]},"mark":{"type":"rule","color":"#808080","strokeWidth":1.3},"encoding":{"x":{"field":"s","type":"nominal","bandPosition":1.125,"title":null},"y":{"field":"v","type":"quantitative","title":"Freezing [%]"},"y2":{"field":"v2"}}},
    {"data":{"values":[{"s":"FC","v":55.6,"t":"n.s."},{"s":"FC","v":45.4,"t":"P<0.0005"},{"s":"FC","v":36,"t":"n.s."},{"s":"FC - PT","v":22.4,"t":"n.s."}]},"mark":{"type":"text","fontStyle":"italic","fontSize":11,"color":"#333","baseline":"alphabetic"},"encoding":{"x":{"field":"s","type":"nominal","bandPosition":1.125,"title":null},"y":{"field":"v","type":"quantitative","title":"Freezing [%]"},"text":{"field":"t"}}}
   ]}]},
  {"width":16,"height":1,"data":{"values":[{}]},"mark":{"type":"point","opacity":0},"encoding":{}},
  {"title":{"text":"G","anchor":"start","fontSize":15,"offset":4},"vconcat":[{
   "title":{"text":"Plus Maze","offset":12,"anchor":"middle","dx":16},"spacing":0,
   "hconcat":[
    {"width":63,"height":100,
     "data":{"values":[
      {"s":"PTC","g":"PTC","m":14.7,"hi":16.8},
      {"s":"FC","g":"FC","m":4.7,"hi":5.3},
      {"s":"FC - EXT","g":"FC - EXT","m":5.2,"hi":6.7},
      {"s":"FC - PT","g":"FC - PT","m":15,"hi":17.9},
      {"s":"NS","g":"NS","m":12.5,"hi":13.8}
     ]},
     "layer":[
      {"mark":{"type":"rule","color":"#000","strokeWidth":1.5},"encoding":{"x":{"field":"s","type":"nominal","title":"Open arms","scale":{"domain":["PTC","FC","FC - EXT","FC - PT","NS"],"paddingInner":0.2,"paddingOuter":0.14},"axis":{"labels":false,"ticks":false,"titlePadding":3}},"y":{"field":"m","type":"quantitative","title":"Time [%]","scale":{"domain":[0,30],"nice":false},"axis":{"values":[0,10,20,30],"labelOverlap":false}},"y2":{"field":"hi"}}},
      {"mark":{"type":"tick","orient":"horizontal","size":6,"thickness":1.5,"color":"#000"},"encoding":{"x":{"field":"s","type":"nominal","title":"Open arms"},"y":{"field":"hi","type":"quantitative","title":"Time [%]"}}},
      {"mark":{"type":"bar","stroke":"#000","strokeWidth":1.5},"encoding":{"x":{"field":"s","type":"nominal","title":"Open arms"},"y":{"field":"m","type":"quantitative","title":"Time [%]"},"fill":{"field":"g","type":"nominal","scale":{"domain":["PTC","FC","FC - EXT","FC - PT","NS"],"range":["#ffffff","#000000","#ed3224","#4352a4","#a7a7a7"]},"legend":null}}},
      {"data":{"values":[{"s":"FC","s2":"FC - EXT","v":8},{"s":"FC - PT","s2":"NS","v":20.7}]},"mark":{"type":"rule","color":"#808080","strokeWidth":1.3},"encoding":{"x":{"field":"s","type":"nominal","title":"Open arms"},"x2":{"field":"s2"},"y":{"field":"v","type":"quantitative","title":"Time [%]"}}},
      {"data":{"values":[{"s":"PTC","s2":"FC - PT","v":28.8},{"s":"PTC","s2":"FC - PT","v":25.3}]},"mark":{"type":"rule","color":"#808080","strokeWidth":1.3},"encoding":{"x":{"field":"s","type":"nominal","title":"Open arms"},"x2":{"field":"s2","bandPosition":1.125},"y":{"field":"v","type":"quantitative","title":"Time [%]"}}},
      {"data":{"values":[{"s":"PTC","v":17.5,"v2":28.8},{"s":"FC","v":6,"v2":8},{"s":"FC - EXT","v":7.3,"v2":8},{"s":"FC - PT","v":18.6,"v2":20.7},{"s":"NS","v":14.5,"v2":20.7}]},"mark":{"type":"rule","color":"#808080","strokeWidth":1.3},"encoding":{"x":{"field":"s","type":"nominal","title":"Open arms"},"y":{"field":"v","type":"quantitative","title":"Time [%]"},"y2":{"field":"v2"}}},
      {"data":{"values":[{"s":"FC - PT","v":20.7,"v2":28.8},{"s":"FC","v":11,"v2":25.3}]},"mark":{"type":"rule","color":"#808080","strokeWidth":1.3},"encoding":{"x":{"field":"s","type":"nominal","bandPosition":1.125,"title":"Open arms"},"y":{"field":"v","type":"quantitative","title":"Time [%]"},"y2":{"field":"v2"}}},
      {"data":{"values":[{"s":"FC","v":29.3,"t":"n.s."},{"s":"FC","v":25.7,"t":"P<0.02"},{"s":"FC","v":8.4,"t":"n.s."},{"s":"FC - PT","v":21.1,"t":"n.s."}]},"mark":{"type":"text","fontStyle":"italic","fontSize":10.5,"color":"#333","baseline":"alphabetic"},"encoding":{"x":{"field":"s","type":"nominal","bandPosition":1.125,"title":"Open arms"},"y":{"field":"v","type":"quantitative","title":"Time [%]"},"text":{"field":"t"}}}
     ]},
    {"width":14,"height":1,"data":{"values":[{}]},"mark":{"type":"point","opacity":0},"encoding":{}},
    {"width":58,"height":100,
     "data":{"values":[
      {"s":"PTC","g":"PTC","m":13.1,"hi":14.3},
      {"s":"FC","g":"FC","m":6.4,"hi":7.3},
      {"s":"FC - EXT","g":"FC - EXT","m":4.8,"hi":5.9},
      {"s":"FC - PT","g":"FC - PT","m":10.9,"hi":12.2},
      {"s":"NS","g":"NS","m":10.5,"hi":11.9}
     ]},
     "layer":[
      {"mark":{"type":"rule","color":"#000","strokeWidth":1.5},"encoding":{"x":{"field":"s","type":"nominal","title":"Open arms","scale":{"domain":["PTC","FC","FC - EXT","FC - PT","NS"],"paddingInner":0.2,"paddingOuter":0.08},"axis":{"labels":false,"ticks":false,"titlePadding":3}},"y":{"field":"m","type":"quantitative","title":"Crossings [#]","scale":{"domain":[0,20],"nice":false},"axis":{"values":[0,5,10,15,20],"labelOverlap":false}},"y2":{"field":"hi"}}},
      {"mark":{"type":"tick","orient":"horizontal","size":6,"thickness":1.5,"color":"#000"},"encoding":{"x":{"field":"s","type":"nominal","title":"Open arms"},"y":{"field":"hi","type":"quantitative","title":"Crossings [#]"}}},
      {"mark":{"type":"bar","stroke":"#000","strokeWidth":1.5},"encoding":{"x":{"field":"s","type":"nominal","title":"Open arms"},"y":{"field":"m","type":"quantitative","title":"Crossings [#]"},"fill":{"field":"g","type":"nominal","scale":{"domain":["PTC","FC","FC - EXT","FC - PT","NS"],"range":["#ffffff","#000000","#ed3224","#4352a4","#a7a7a7"]},"legend":null}}},
      {"data":{"values":[{"s":"FC","s2":"FC - EXT","v":8.2},{"s":"FC - PT","s2":"NS","v":13.5}]},"mark":{"type":"rule","color":"#808080","strokeWidth":1.3},"encoding":{"x":{"field":"s","type":"nominal","title":"Open arms"},"x2":{"field":"s2"},"y":{"field":"v","type":"quantitative","title":"Crossings [#]"}}},
      {"data":{"values":[{"s":"PTC","s2":"FC - PT","v":18.9},{"s":"PTC","s2":"FC - PT","v":16.2}]},"mark":{"type":"rule","color":"#808080","strokeWidth":1.3},"encoding":{"x":{"field":"s","type":"nominal","title":"Open arms"},"x2":{"field":"s2","bandPosition":1.125},"y":{"field":"v","type":"quantitative","title":"Crossings [#]"}}},
      {"data":{"values":[{"s":"PTC","v":14.8,"v2":18.9},{"s":"FC","v":7.8,"v2":8.2},{"s":"FC - EXT","v":6.4,"v2":8.2},{"s":"FC - PT","v":12.6,"v2":13.5},{"s":"NS","v":12.3,"v2":13.5}]},"mark":{"type":"rule","color":"#808080","strokeWidth":1.3},"encoding":{"x":{"field":"s","type":"nominal","title":"Open arms"},"y":{"field":"v","type":"quantitative","title":"Crossings [#]"},"y2":{"field":"v2"}}},
      {"data":{"values":[{"s":"FC - PT","v":13.5,"v2":18.9},{"s":"FC","v":10.5,"v2":16.2}]},"mark":{"type":"rule","color":"#808080","strokeWidth":1.3},"encoding":{"x":{"field":"s","type":"nominal","bandPosition":1.125,"title":"Open arms"},"y":{"field":"v","type":"quantitative","title":"Crossings [#]"},"y2":{"field":"v2"}}},
      {"data":{"values":[{"s":"FC","v":19.2,"t":"n.s."},{"s":"FC","v":16.5,"t":"P<0.05"},{"s":"FC","v":8.5,"t":"n.s."},{"s":"FC - PT","v":13.8,"t":"n.s."}]},"mark":{"type":"text","fontStyle":"italic","fontSize":10.5,"color":"#333","baseline":"alphabetic"},"encoding":{"x":{"field":"s","type":"nominal","bandPosition":1.125,"title":"Open arms"},"y":{"field":"v","type":"quantitative","title":"Crossings [#]"},"text":{"field":"t"}}}
     ]}
   ]}]},
  {"width":22,"height":1,"data":{"values":[{}]},"mark":{"type":"point","opacity":0},"encoding":{}},
  {"title":{"text":"H","anchor":"start","fontSize":15,"offset":3},"vconcat":[{
   "title":{"text":"Social Approach","offset":10,"frame":"group"},
   "width":170,"height":100,
   "data":{"values":[
    {"s":"1_PTC","g":"PTC","m":0.453,"hi":0.47},
    {"s":"1_FC","g":"FC","m":0.507,"hi":0.517},
    {"s":"1_EXT","g":"FC - EXT","m":0.47,"hi":0.5},
    {"s":"1_PT","g":"FC - PT","m":0.48,"hi":0.505},
    {"s":"1_NS","g":"NS","m":0.46,"hi":0.488},
    {"s":"2_PTC","g":"PTC","m":0.613,"hi":0.64},
    {"s":"2_FC","g":"FC","m":0.513,"hi":0.54},
    {"s":"2_EXT","g":"FC - EXT","m":0.503,"hi":0.55},
    {"s":"2_PT","g":"FC - PT","m":0.657,"hi":0.7},
    {"s":"2_NS","g":"NS","m":0.673,"hi":0.71}
   ]},
   "layer":[
    {"mark":{"type":"rule","color":"#000","strokeWidth":1.5},"encoding":{"x":{"field":"s","type":"nominal","title":null,"scale":{"domain":["1_PTC","1_FC","1_EXT","1_PT","1_NS","ga","gb","gc","2_PTC","2_FC","2_EXT","2_PT","2_NS"],"paddingInner":0.2,"paddingOuter":1.83},"axis":{"values":["1_EXT","2_EXT"],"labelExpr":"datum.value == '1_EXT' ? '1st' : ['2nd', '(with mouse)']","ticks":false,"labelAngle":0,"labelPadding":3,"labelOverlap":false}},"y":{"field":"m","type":"quantitative","title":"Index","scale":{"domain":[0,1],"nice":false},"axis":{"values":[0,0.5,1],"format":".1f","labelOverlap":false}},"y2":{"field":"hi"}}},
    {"mark":{"type":"tick","orient":"horizontal","size":5,"thickness":1.5,"color":"#000"},"encoding":{"x":{"field":"s","type":"nominal","title":null},"y":{"field":"hi","type":"quantitative","title":"Index"}}},
    {"mark":{"type":"bar","stroke":"#000","strokeWidth":1.5},"encoding":{"x":{"field":"s","type":"nominal","title":null},"y":{"field":"m","type":"quantitative","title":"Index"},"fill":{"field":"g","type":"nominal","scale":{"domain":["PTC","FC","FC - EXT","FC - PT","NS"],"range":["#ffffff","#000000","#ed3224","#4352a4","#a7a7a7"]},"legend":null}}},
    {"data":{"values":[{"v":0.5}]},"mark":{"type":"rule","color":"#000","strokeWidth":1,"strokeDash":[4,3]},"encoding":{"y":{"field":"v","type":"quantitative","title":"Index"}}},
    {"data":{"values":[{"s":"2_FC","s2":"2_EXT","v":0.61},{"s":"2_PT","s2":"2_NS","v":0.78}]},"mark":{"type":"rule","color":"#808080","strokeWidth":1.3},"encoding":{"x":{"field":"s","type":"nominal","title":null},"x2":{"field":"s2"},"y":{"field":"v","type":"quantitative","title":"Index"}}},
    {"data":{"values":[{"s":"2_PTC","s2":"2_PT","v":1.007},{"s":"2_PTC","s2":"2_PT","v":0.907}]},"mark":{"type":"rule","color":"#808080","strokeWidth":1.3},"encoding":{"x":{"field":"s","type":"nominal","title":null},"x2":{"field":"s2","bandPosition":1.125},"y":{"field":"v","type":"quantitative","title":"Index"}}},
    {"data":{"values":[{"s":"2_PTC","v":0.66,"v2":1.007},{"s":"2_FC","v":0.56,"v2":0.61},{"s":"2_EXT","v":0.57,"v2":0.61},{"s":"2_PT","v":0.72,"v2":0.78},{"s":"2_NS","v":0.73,"v2":0.78}]},"mark":{"type":"rule","color":"#808080","strokeWidth":1.3},"encoding":{"x":{"field":"s","type":"nominal","title":null},"y":{"field":"v","type":"quantitative","title":"Index"},"y2":{"field":"v2"}}},
    {"data":{"values":[{"s":"2_PT","v":0.78,"v2":1.007},{"s":"2_FC","v":0.72,"v2":0.907}]},"mark":{"type":"rule","color":"#808080","strokeWidth":1.3},"encoding":{"x":{"field":"s","type":"nominal","bandPosition":1.125,"title":null},"y":{"field":"v","type":"quantitative","title":"Index"},"y2":{"field":"v2"}}},
    {"data":{"values":[{"s":"2_FC","v":1.03,"t":"n.s."},{"s":"2_FC","v":0.918,"t":"P<0.05"},{"s":"2_FC","v":0.62,"t":"n.s."},{"s":"2_PT","v":0.79,"t":"n.s."}]},"mark":{"type":"text","fontStyle":"italic","fontSize":10,"color":"#333","baseline":"alphabetic"},"encoding":{"x":{"field":"s","type":"nominal","bandPosition":1.125,"title":null},"y":{"field":"v","type":"quantitative","title":"Index"},"text":{"field":"t"}}}
   ]}]},
  {"width":9,"height":1,"data":{"values":[{}]},"mark":{"type":"point","opacity":0},"encoding":{}},
  {"title":{"text":"I","anchor":"start","fontSize":15,"offset":2},"vconcat":[{
   "title":{"text":"Water Maze","offset":16,"anchor":"middle","dx":-8},"spacing":0,
   "hconcat":[
    {"width":47,"height":100,"data":{"values":[
      {"b":1,"g":"NS","m":49,"lo":45,"hi":53},{"b":1,"g":"PTC","m":38,"lo":34,"hi":42},{"b":1,"g":"FC - PT","m":41.5,"lo":37,"hi":46},{"b":1,"g":"FC","m":36,"lo":32,"hi":40},{"b":1,"g":"FC - EXT","m":39,"lo":35,"hi":43},
      {"b":2,"g":"NS","m":32.5,"lo":28.5,"hi":36.5},{"b":2,"g":"PTC","m":28,"lo":24,"hi":32},{"b":2,"g":"FC - PT","m":30,"lo":26,"hi":34},{"b":2,"g":"FC","m":26.5,"lo":22.5,"hi":30.5},{"b":2,"g":"FC - EXT","m":44,"lo":39.5,"hi":48.5},
      {"b":3,"g":"NS","m":27,"lo":23,"hi":31},{"b":3,"g":"PTC","m":16,"lo":13,"hi":19},{"b":3,"g":"FC - PT","m":21,"lo":17.5,"hi":24.5},{"b":3,"g":"FC","m":30,"lo":25,"hi":35},{"b":3,"g":"FC - EXT","m":28.5,"lo":25,"hi":32}
     ]},
     "layer":[
      {"mark":{"type":"line","color":"#000","strokeWidth":1.2},"encoding":{"x":{"field":"b","type":"quantitative","title":null,"scale":{"domain":[0.57,4],"nice":false,"zero":false},"axis":{"values":[1,2,3],"format":"d","labelOverlap":false}},"y":{"field":"m","type":"quantitative","title":"Escape Latency [s]","scale":{"domain":[0,60],"nice":false},"axis":{"values":[0,20,40,60],"labelOverlap":false}},"detail":{"field":"g","type":"nominal"}}},
      {"mark":{"type":"rule","color":"#000","strokeWidth":1.2},"encoding":{"x":{"field":"b","type":"quantitative","title":null},"y":{"field":"lo","type":"quantitative","title":"Escape Latency [s]"},"y2":{"field":"hi"}}},
      {"mark":{"type":"tick","orient":"horizontal","size":5,"thickness":1.2,"color":"#000"},"encoding":{"x":{"field":"b","type":"quantitative","title":null},"y":{"field":"hi","type":"quantitative","title":"Escape Latency [s]"}}},
      {"mark":{"type":"tick","orient":"horizontal","size":5,"thickness":1.2,"color":"#000"},"encoding":{"x":{"field":"b","type":"quantitative","title":null},"y":{"field":"lo","type":"quantitative","title":"Escape Latency [s]"}}},
      {"transform":[{"filter":"datum.g == 'PTC' || datum.g == 'FC'"}],"mark":{"type":"point","shape":"circle","filled":true,"size":40,"stroke":"#222","strokeWidth":1,"opacity":1},"encoding":{"x":{"field":"b","type":"quantitative","title":null},"y":{"field":"m","type":"quantitative","title":"Escape Latency [s]"},"fill":{"field":"g","type":"nominal","scale":{"domain":["PTC","FC","FC - EXT","FC - PT","NS"],"range":["#ffffff","#000000","#ed3224","#4352a4","#a7a7a7"]},"legend":null}}},
      {"transform":[{"filter":"datum.g != 'PTC' && datum.g != 'FC'"}],"mark":{"type":"point","shape":"square","filled":true,"size":40,"stroke":"#222","strokeWidth":1,"opacity":1},"encoding":{"x":{"field":"b","type":"quantitative","title":null},"y":{"field":"m","type":"quantitative","title":"Escape Latency [s]"},"fill":{"field":"g","type":"nominal","scale":{"domain":["PTC","FC","FC - EXT","FC - PT","NS"],"range":["#ffffff","#000000","#ed3224","#4352a4","#a7a7a7"]},"legend":null}}},
      {"data":{"values":[{"b":4,"v":0,"v2":60}]},"mark":{"type":"rule","color":"#000","strokeWidth":1.2,"strokeDash":[4,3]},"encoding":{"x":{"field":"b","type":"quantitative","title":null},"y":{"field":"v","type":"quantitative","title":"Escape Latency [s]"},"y2":{"field":"v2"}}}
     ]},
    {"width":55,"height":100,"data":{"values":[
      {"b":4,"g":"NS","m":21,"lo":17,"hi":25},{"b":4,"g":"PTC","m":18,"lo":13,"hi":23},{"b":4,"g":"FC - PT","m":16.5,"lo":12.5,"hi":20.5},{"b":4,"g":"FC","m":39.5,"lo":33.5,"hi":45.5},{"b":4,"g":"FC - EXT","m":33.5,"lo":29.5,"hi":37.5},
      {"b":5,"g":"NS","m":14,"lo":11,"hi":17},{"b":5,"g":"PTC","m":12.5,"lo":10,"hi":15},{"b":5,"g":"FC - PT","m":20,"lo":16.5,"hi":23.5},{"b":5,"g":"FC","m":31.5,"lo":26,"hi":37},{"b":5,"g":"FC - EXT","m":27.5,"lo":23.5,"hi":31.5},
      {"b":6,"g":"NS","m":16.5,"lo":13,"hi":20},{"b":6,"g":"PTC","m":14.5,"lo":11,"hi":18},{"b":6,"g":"FC - PT","m":15.5,"lo":12,"hi":19},{"b":6,"g":"FC","m":30.5,"lo":25.5,"hi":35.5},{"b":6,"g":"FC - EXT","m":13,"lo":10,"hi":16}
     ]},
     "layer":[
      {"mark":{"type":"line","color":"#000","strokeWidth":1.2},"encoding":{"x":{"field":"b","type":"quantitative","title":"Blocks/days","scale":{"domain":[2.97,6.98],"nice":false,"zero":false},"axis":{"values":[4,5,6],"format":"d","titleFontSize":10,"titlePadding":2,"labelOverlap":false}},"y":{"field":"m","type":"quantitative","scale":{"domain":[0,60],"nice":false},"axis":null},"detail":{"field":"g","type":"nominal"}}},
      {"mark":{"type":"rule","color":"#000","strokeWidth":1.2},"encoding":{"x":{"field":"b","type":"quantitative","title":"Blocks/days"},"y":{"field":"lo","type":"quantitative","axis":null},"y2":{"field":"hi"}}},
      {"mark":{"type":"tick","orient":"horizontal","size":5,"thickness":1.2,"color":"#000"},"encoding":{"x":{"field":"b","type":"quantitative","title":"Blocks/days"},"y":{"field":"hi","type":"quantitative","axis":null}}},
      {"mark":{"type":"tick","orient":"horizontal","size":5,"thickness":1.2,"color":"#000"},"encoding":{"x":{"field":"b","type":"quantitative","title":"Blocks/days"},"y":{"field":"lo","type":"quantitative","axis":null}}},
      {"transform":[{"filter":"datum.g == 'PTC' || datum.g == 'FC'"}],"mark":{"type":"point","shape":"circle","filled":true,"size":40,"stroke":"#222","strokeWidth":1,"opacity":1},"encoding":{"x":{"field":"b","type":"quantitative","title":"Blocks/days"},"y":{"field":"m","type":"quantitative","axis":null},"fill":{"field":"g","type":"nominal","scale":{"domain":["PTC","FC","FC - EXT","FC - PT","NS"],"range":["#ffffff","#000000","#ed3224","#4352a4","#a7a7a7"]},"legend":null}}},
      {"transform":[{"filter":"datum.g != 'PTC' && datum.g != 'FC'"}],"mark":{"type":"point","shape":"square","filled":true,"size":40,"stroke":"#222","strokeWidth":1,"opacity":1},"encoding":{"x":{"field":"b","type":"quantitative","title":"Blocks/days"},"y":{"field":"m","type":"quantitative","axis":null},"fill":{"field":"g","type":"nominal","scale":{"domain":["PTC","FC","FC - EXT","FC - PT","NS"],"range":["#ffffff","#000000","#ed3224","#4352a4","#a7a7a7"]},"legend":null}}}
     ]},
    {"width":47,"height":100,"data":{"values":[
      {"b":7,"g":"NS","m":16,"lo":12.5,"hi":19.5},{"b":7,"g":"PTC","m":21,"lo":17,"hi":25},{"b":7,"g":"FC - PT","m":23.5,"lo":19.5,"hi":27.5},{"b":7,"g":"FC","m":26,"lo":22,"hi":30},{"b":7,"g":"FC - EXT","m":22,"lo":18,"hi":26},
      {"b":8,"g":"NS","m":9,"lo":7.5,"hi":10.5},{"b":8,"g":"PTC","m":19.5,"lo":16,"hi":23},{"b":8,"g":"FC - PT","m":14,"lo":11,"hi":17},{"b":8,"g":"FC","m":31,"lo":25,"hi":37},{"b":8,"g":"FC - EXT","m":22.5,"lo":18.5,"hi":26.5},
      {"b":9,"g":"NS","m":11.5,"lo":9,"hi":14},{"b":9,"g":"PTC","m":8.5,"lo":7,"hi":10},{"b":9,"g":"FC - PT","m":16,"lo":12,"hi":20},{"b":9,"g":"FC","m":23.5,"lo":19.5,"hi":27.5},{"b":9,"g":"FC - EXT","m":24,"lo":19,"hi":29}
     ]},
     "layer":[
      {"mark":{"type":"line","color":"#000","strokeWidth":1.2},"encoding":{"x":{"field":"b","type":"quantitative","title":null,"scale":{"domain":[6,9.43],"nice":false,"zero":false},"axis":{"values":[7,8,9],"format":"d","labelOverlap":false}},"y":{"field":"m","type":"quantitative","scale":{"domain":[0,60],"nice":false},"axis":null},"detail":{"field":"g","type":"nominal"}}},
      {"mark":{"type":"rule","color":"#000","strokeWidth":1.2},"encoding":{"x":{"field":"b","type":"quantitative","title":null},"y":{"field":"lo","type":"quantitative","axis":null},"y2":{"field":"hi"}}},
      {"mark":{"type":"tick","orient":"horizontal","size":5,"thickness":1.2,"color":"#000"},"encoding":{"x":{"field":"b","type":"quantitative","title":null},"y":{"field":"hi","type":"quantitative","axis":null}}},
      {"mark":{"type":"tick","orient":"horizontal","size":5,"thickness":1.2,"color":"#000"},"encoding":{"x":{"field":"b","type":"quantitative","title":null},"y":{"field":"lo","type":"quantitative","axis":null}}},
      {"transform":[{"filter":"datum.g == 'PTC' || datum.g == 'FC'"}],"mark":{"type":"point","shape":"circle","filled":true,"size":40,"stroke":"#222","strokeWidth":1,"opacity":1},"encoding":{"x":{"field":"b","type":"quantitative","title":null},"y":{"field":"m","type":"quantitative","axis":null},"fill":{"field":"g","type":"nominal","scale":{"domain":["PTC","FC","FC - EXT","FC - PT","NS"],"range":["#ffffff","#000000","#ed3224","#4352a4","#a7a7a7"]},"legend":null}}},
      {"transform":[{"filter":"datum.g != 'PTC' && datum.g != 'FC'"}],"mark":{"type":"point","shape":"square","filled":true,"size":40,"stroke":"#222","strokeWidth":1,"opacity":1},"encoding":{"x":{"field":"b","type":"quantitative","title":null},"y":{"field":"m","type":"quantitative","axis":null},"fill":{"field":"g","type":"nominal","scale":{"domain":["PTC","FC","FC - EXT","FC - PT","NS"],"range":["#ffffff","#000000","#ed3224","#4352a4","#a7a7a7"]},"legend":null}}},
      {"data":{"values":[{"b":6,"v":0,"v2":60}]},"mark":{"type":"rule","color":"#000","strokeWidth":1.2,"strokeDash":[4,3]},"encoding":{"x":{"field":"b","type":"quantitative","title":null},"y":{"field":"v","type":"quantitative","axis":null},"y2":{"field":"v2"}}},
      {"data":{"values":[{"b":10.25,"b2":10.85,"v":22.9},{"b":10.45,"b2":10.85,"v":10.4},{"b":9.25,"b2":9.37,"v":15.7},{"b":9.25,"b2":9.37,"v":8.6}]},"mark":{"type":"rule","color":"#444","strokeWidth":1},"encoding":{"x":{"field":"b","type":"quantitative","title":null},"x2":{"field":"b2"},"y":{"field":"v","type":"quantitative","axis":null}}},
      {"data":{"values":[{"b":10.85,"v":10.4,"v2":22.9},{"b":9.37,"v":8.6,"v2":15.7}]},"mark":{"type":"rule","color":"#444","strokeWidth":1},"encoding":{"x":{"field":"b","type":"quantitative","title":null},"y":{"field":"v","type":"quantitative","axis":null},"y2":{"field":"v2"}}},
      {"data":{"values":[{"b":9.22,"v":21.8,"t":"n.s."},{"b":9.5,"v":9.3,"t":"n.s."},{"b":11.05,"v":17.3,"t":"P<0.05"}]},"mark":{"type":"text","fontStyle":"italic","fontSize":10.5,"color":"#333","baseline":"alphabetic","align":"left"},"encoding":{"x":{"field":"b","type":"quantitative","title":null},"y":{"field":"v","type":"quantitative","axis":null},"text":{"field":"t"}}}
     ]}
   ]}]}
 ],"spacing":0}
]
}
